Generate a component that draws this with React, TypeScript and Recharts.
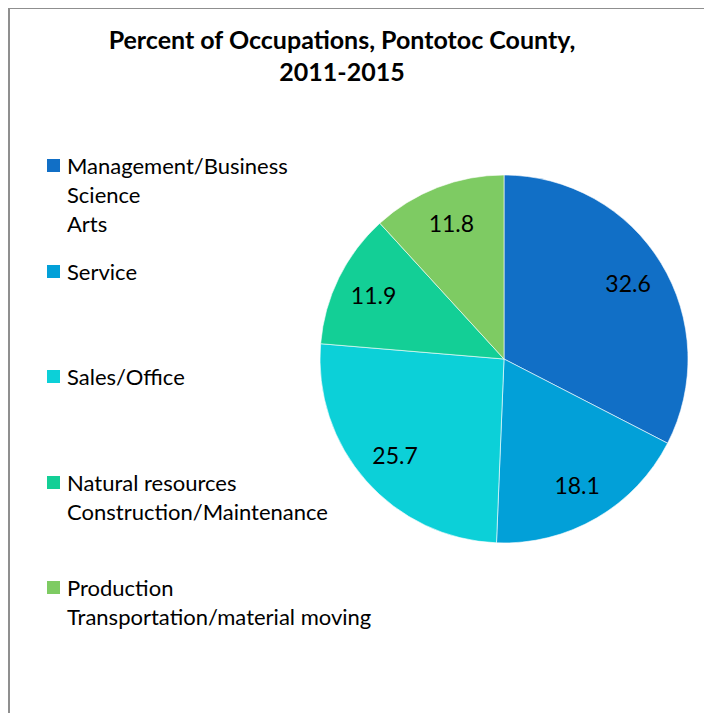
import { PieChart, Pie, Cell, Legend } from 'recharts'

const categories = [
  'Management/Business\nScience\nArts',
  'Service',
  'Sales/Office',
  'Natural resources\nConstruction/Maintenance',
  'Production\nTransportation/material moving',
]
const percents = [32.6, 18.1, 25.7, 11.9, 11.8]
const colors = ['#116fc6', '#02a0d8', '#0cd0d8', '#13cf96', '#7ecb63']

const FONT = 'Lato, "Open Sans", sans-serif'
const RAD = Math.PI / 180

const data = categories.map((name, i) => ({ name, value: percents[i] }))

function renderLabel(props: any) {
  const { cx, cy, midAngle, outerRadius, value } = props
  const r = outerRadius * 0.79
  const x = cx + r * Math.cos(-midAngle * RAD)
  const y = cy + r * Math.sin(-midAngle * RAD)
  return (
    <text x={x} y={y} textAnchor="middle" dominantBaseline="central"
      fill="#000" style={{ fontFamily: FONT, fontSize: 23 }}>
      {value.toFixed(1)}
    </text>
  )
}

function renderLegend(props: any) {
  // keep the slice order, recharts sorts legend items by name
  const payload = [...(props.payload || [])].sort(
    (a: any, b: any) => categories.indexOf(a.value) - categories.indexOf(b.value),
  )
  return (
    <div style={{ fontFamily: FONT, fontSize: 22, color: '#000' }}>
      {payload.map((entry: any, i: number) => (
        <div key={i} style={{ height: 105.5, position: 'relative' }}>
          <div style={{
            position: 'absolute', left: 0, top: 8, width: 13, height: 13,
            background: entry.color,
          }} />
          {String(entry.value).split('\n').map((line, j) => (
            <div key={j} style={{ marginLeft: 20, height: 29, lineHeight: '29px', whiteSpace: 'nowrap' }}>{line}</div>
          ))}
        </div>
      ))}
    </div>
  )
}

export default function App() {
  return (
    <div style={{
      position: 'relative', width: 695, height: 720, marginTop: -1,
      border: '2px solid #8f8f8f', background: '#fff', overflow: 'hidden',
    }}>
      <div style={{
        position: 'absolute', left: 0, width: 664, top: 14, textAlign: 'center',
        fontFamily: FONT, fontWeight: 700, fontSize: 25, lineHeight: '32px', color: '#000',
      }}>
        Percent of Occupations, Pontotoc County,<br />2011-2015
      </div>
      <PieChart width={695} height={720} margin={{ top: 0, right: 0, bottom: 0, left: 0 }}>
        <Pie
          data={data}
          dataKey="value"
          nameKey="name"
          cx={494}
          cy={350}
          outerRadius={184}
          startAngle={90}
          endAngle={-270}
          stroke="#ffffff"
          strokeWidth={0.6}
          label={renderLabel}
          labelLine={false}
          isAnimationActive={false}
        >
          {data.map((_, i) => (
            <Cell key={i} fill={colors[i]} />
          ))}
        </Pie>
        <Legend
          content={renderLegend}
          layout="vertical"
          wrapperStyle={{ position: 'absolute', left: 37, top: 142, width: 360 }}
        />
      </PieChart>
    </div>
  )
}
